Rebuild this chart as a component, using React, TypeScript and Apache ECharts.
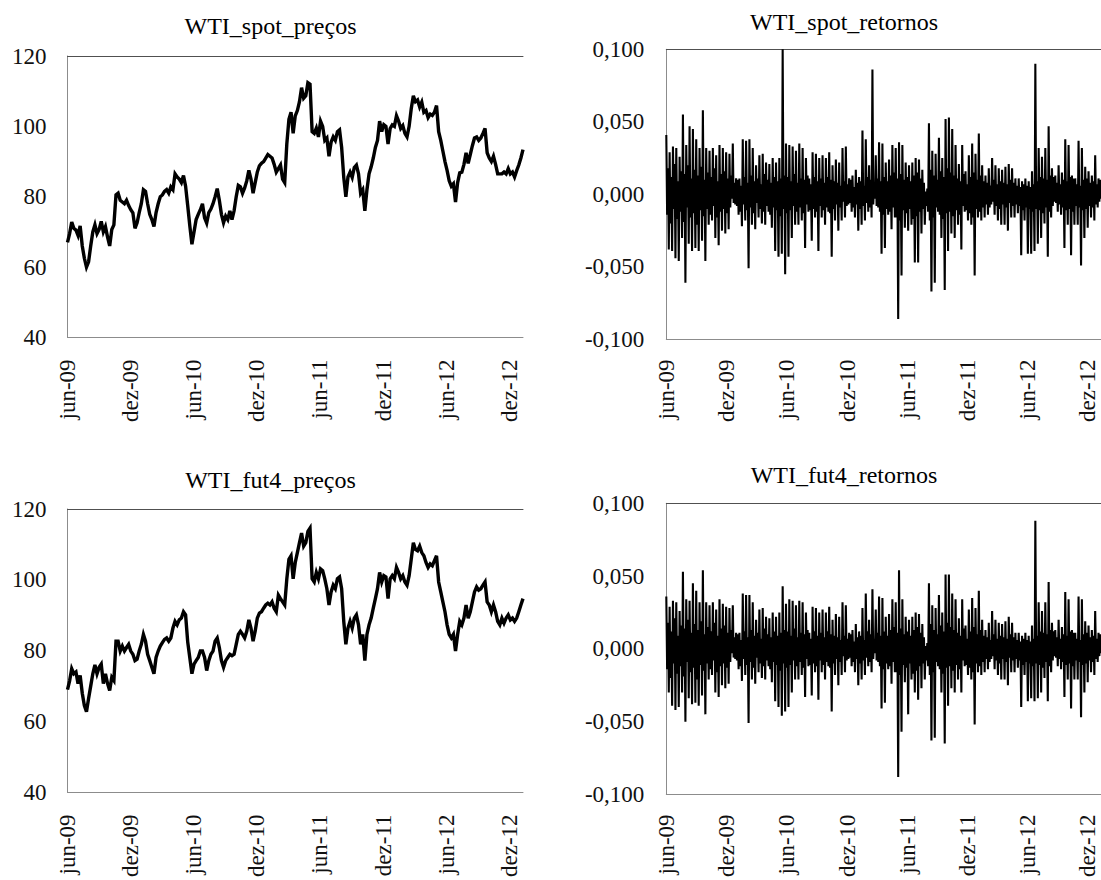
import React, { useEffect, useRef } from "react";
import * as echarts from "echarts";

// ---- tick labels (every 6 months, first at jun-09) ----
const tickLabels = ["jun-09", "dez-09", "jun-10", "dez-10", "jun-11", "dez-11", "jun-12", "dez-12"];
const spanMonths = 43.3; // months from jun-09 to end of series

// ---- WTI spot prices (evenly spaced in time) ----
const spotPrices = [
  67, 69.5, 72.8, 71, 70.5, 69, 71.7, 66, 62.5, 60, 61.5, 66, 70, 72, 69.5, 70.7, 73, 70, 71.5, 68.5,
  66, 70.7, 72, 80.5, 81, 79, 78.5, 78, 79, 77.5, 76.3, 75.4, 71, 72.6, 75.5, 78, 82, 81.5, 78, 75,
  73.5, 71.5, 75.5, 78, 80, 80.5, 81.5, 82, 81, 82.8, 82, 86.5, 85.6, 85, 84, 86, 83, 77.5, 71.7, 66.5,
  70, 73.5, 75, 76.3, 78, 74, 72.5, 75.5, 76.5, 78, 80, 82.3, 79, 75, 72.6, 74.5, 73.5, 76, 73.5, 76,
  80, 83.2, 82.8, 81, 82.5, 84.5, 87.5, 85, 81, 84, 87, 88.8, 89.5, 90, 91, 92, 91.5, 91, 89.2, 87,
  88, 89, 85, 84, 95, 102, 104, 98, 103, 104.5, 107, 111, 108, 108.7, 112.4, 112, 98.5, 98, 99.5, 97,
  101.5, 100, 96, 96.7, 91.5, 95.5, 97, 96, 98.5, 99, 94, 85.5, 80, 85.6, 87, 85.5, 88.3, 89, 86.5, 81,
  82, 76, 82, 86.5, 88.5, 91, 94, 96, 101.5, 98.5, 100.5, 100, 95, 99.4, 100.4, 100, 103, 101.5, 99.4, 100.2,
  98, 97, 100, 105, 108.7, 107, 107.5, 105.5, 106.9, 104, 104.5, 102.5, 103.5, 103.1, 104, 105.9, 98.5, 96, 93, 90,
  87.5, 84.5, 83, 83.7, 78.5, 84, 86.8, 87, 89.2, 92.5, 89.5, 92, 94.5, 96.7, 97, 96, 96.7, 98, 99.4, 92.5,
  91, 90, 91.5, 89.2, 86.5, 86.5, 86.5, 87, 86.5, 88, 86.5, 87, 85.6, 87.4, 89, 91, 93.4,
];

// ---- WTI 4th-month futures prices ----
const fut4Prices = [
  69, 71.5, 74.9, 73.5, 74, 70.7, 73, 68, 64.5, 62.8, 66.5, 70, 73.5, 76, 73.5, 75.3, 76.2, 70.7, 73.5, 70.7,
  68.8, 72.5, 71.6, 82.7, 82.7, 79.9, 81.3, 79.9, 80.9, 81.8, 79.9, 79, 77.2, 77.6, 79.9, 81.8, 84.6, 82.7, 79, 77.2,
  75.3, 73.5, 78.1, 79.9, 81.3, 82.3, 83.2, 83.6, 82.7, 83.6, 86.4, 88.3, 87.3, 88.7, 89.2, 91, 90.1, 82.5, 78, 73.5,
  76.2, 77.2, 78.1, 79.9, 79.9, 78.1, 74.4, 77.2, 79, 79.9, 82.7, 83.6, 80.9, 77.2, 75.3, 77.2, 78.1, 79, 78.6, 79,
  81.8, 84.6, 85.5, 84.6, 83.6, 85.5, 88.7, 86.4, 82.7, 85.5, 89.2, 90.6, 91, 92, 92.9, 93.4, 92.9, 93.8, 92, 91,
  95.7, 94.7, 93.8, 92.9, 100.3, 105.8, 106.8, 100.3, 104.9, 107.7, 110.5, 113.2, 109.5, 110.5, 113.7, 114.6, 100.3, 99.4, 102.1, 100.3,
  103.1, 102.6, 100.3, 97.5, 92.9, 96.6, 98.5, 97.5, 100.3, 100.8, 97.5, 88.3, 81.8, 86.4, 88.3, 86.4, 89.2, 90.1, 87.3, 81.8,
  84.6, 77.2, 84.6, 87.3, 89.2, 92, 94.7, 97.5, 102.1, 99.4, 101.2, 100.8, 94.7, 100.3, 101.2, 100.3, 103.5, 102.1, 100.3, 101.2,
  99.4, 98.5, 101.2, 105.8, 110.5, 108.6, 108.2, 109.5, 107.7, 106.8, 104.9, 103.5, 104.5, 104, 105.4, 106.8, 99.4, 96.6, 93.8, 91,
  87.3, 84.6, 83.6, 84.6, 79.9, 84.6, 88.3, 87.3, 89.2, 92.9, 89.2, 91, 93.8, 96.6, 98, 97.1, 97.5, 98.5, 99.4, 93.8,
  92.9, 91, 92.9, 91, 88.3, 87.3, 89.2, 87.8, 89.2, 90.1, 88.7, 89.2, 88.3, 89.2, 91, 92.9, 94.7,
];

// ---- WTI spot returns: per ~3 px slice, the highest and the lowest return (pairs) ----
const spotReturnExtremes = [
  0.041, -0.038, 0.029, -0.039, 0.033, -0.044, 0.032, -0.046, 0.026, -0.030, 0.055, -0.061, 0.034, -0.034, 0.047, -0.039, 0.045, -0.037, 0.038, -0.039,
  0.032, -0.032, 0.058, -0.046, 0.032, -0.021, 0.030, -0.018, 0.032, -0.030, 0.027, -0.035, 0.034, -0.025, 0.032, -0.027, 0.029, -0.024, 0.028, -0.003,
  0.035, -0.007, 0.011, -0.014, 0.011, -0.022, 0.038, -0.018, 0.037, -0.051, 0.038, -0.021, 0.032, -0.024, 0.020, -0.016, 0.027, -0.020, 0.028, -0.021,
  0.022, -0.012, 0.021, -0.023, 0.025, -0.039, 0.022, -0.043, 0.025, -0.041, 0.100, -0.055, 0.035, -0.043, 0.034, -0.030, 0.033, -0.021, 0.030, -0.021,
  0.035, -0.018, 0.032, -0.037, 0.025, -0.012, 0.011, -0.032, 0.029, -0.016, 0.028, -0.039, 0.025, -0.016, 0.027, -0.021, 0.025, -0.012, 0.029, -0.043,
  0.020, -0.018, 0.024, -0.025, 0.022, -0.018, 0.032, -0.016, 0.033, -0.007, 0.011, -0.012, 0.013, -0.016, 0.017, -0.025, 0.012, -0.021, 0.044, -0.018,
  0.038, -0.012, 0.020, -0.016, 0.086, -0.003, 0.027, -0.009, 0.036, -0.041,
  0.035, -0.037, 0.022, -0.014, 0.024, -0.024, 0.034, -0.016, 0.032, -0.086, 0.036, -0.056, 0.034, -0.023, 0.022, -0.025, 0.020, -0.021, 0.022, -0.047,
  0.025, -0.047, 0.024, -0.027, 0.017, -0.021, 0.002, -0.012, 0.049, -0.067, 0.030, -0.061, 0.028, -0.012, 0.039, -0.030, 0.025, -0.066, 0.052, -0.039,
  0.053, -0.027, 0.045, -0.030, 0.034, -0.021, 0.021, -0.038, 0.034, -0.012, 0.016, -0.018, 0.027, -0.021, 0.035, -0.056, 0.028, -0.016, 0.042, -0.018,
  0.020, -0.016, 0.013, -0.014, 0.018, -0.007, 0.025, -0.014, 0.020, -0.018, 0.018, -0.021, 0.017, -0.021, 0.019, -0.025, 0.021, -0.016, 0.018, -0.016,
  0.011, -0.013, 0.011, -0.042, 0.009, -0.018, 0.011, -0.041, 0.009, -0.041, 0.016, -0.039, 0.090, -0.034, 0.032, -0.030, 0.026, -0.020, 0.032, -0.043,
  0.047, -0.016, 0.018, -0.005, 0.013, -0.012, 0.020, -0.014, 0.015, -0.037, 0.038, -0.021, 0.034, -0.042, 0.013, -0.021, 0.011, -0.021, 0.037, -0.049,
  0.032, -0.030, 0.019, -0.023, 0.016, -0.016, 0.013, -0.018, 0.027, -0.009, 0.011, -0.003,
];

// ---- WTI fut4 returns: per slice, highest and lowest return (pairs) ----
const fut4ReturnExtremes = [
  0.036, -0.030, 0.029, -0.039, 0.033, -0.042, 0.032, -0.040, 0.026, -0.030, 0.053, -0.050, 0.034, -0.034, 0.033, -0.038, 0.045, -0.037, 0.040, -0.039,
  0.032, -0.032, 0.054, -0.045, 0.032, -0.021, 0.030, -0.018, 0.032, -0.030, 0.027, -0.033, 0.034, -0.025, 0.031, -0.027, 0.029, -0.024, 0.028, -0.003,
  0.030, -0.007, 0.011, -0.014, 0.011, -0.022, 0.038, -0.018, 0.037, -0.051, 0.037, -0.021, 0.032, -0.024, 0.020, -0.016, 0.027, -0.020, 0.028, -0.021,
  0.022, -0.012, 0.021, -0.023, 0.025, -0.036, 0.022, -0.040, 0.025, -0.046, 0.043, -0.043, 0.031, -0.040, 0.034, -0.030, 0.033, -0.021, 0.030, -0.021,
  0.033, -0.018, 0.032, -0.033, 0.025, -0.012, 0.011, -0.032, 0.029, -0.016, 0.028, -0.035, 0.025, -0.016, 0.027, -0.021, 0.025, -0.012, 0.029, -0.043,
  0.020, -0.018, 0.024, -0.025, 0.022, -0.018, 0.032, -0.016, 0.030, -0.007, 0.011, -0.012, 0.013, -0.016, 0.017, -0.025, 0.012, -0.021, 0.028, -0.018,
  0.038, -0.012, 0.020, -0.016, 0.041, -0.003, 0.027, -0.009, 0.036, -0.041,
  0.035, -0.037, 0.022, -0.014, 0.024, -0.024, 0.034, -0.016, 0.032, -0.088, 0.054, -0.057, 0.034, -0.023, 0.022, -0.045, 0.020, -0.021, 0.022, -0.030,
  0.025, -0.035, 0.024, -0.027, 0.017, -0.021, 0.002, -0.012, 0.045, -0.063, 0.030, -0.061, 0.028, -0.012, 0.037, -0.030, 0.025, -0.065, 0.051, -0.039,
  0.051, -0.027, 0.038, -0.030, 0.034, -0.021, 0.021, -0.030, 0.034, -0.012, 0.016, -0.018, 0.027, -0.021, 0.035, -0.052, 0.028, -0.016, 0.040, -0.018,
  0.020, -0.016, 0.013, -0.014, 0.018, -0.007, 0.026, -0.014, 0.020, -0.018, 0.018, -0.021, 0.017, -0.021, 0.019, -0.025, 0.022, -0.016, 0.018, -0.016,
  0.011, -0.013, 0.011, -0.040, 0.009, -0.018, 0.011, -0.036, 0.009, -0.034, 0.016, -0.036, 0.088, -0.034, 0.032, -0.030, 0.026, -0.020, 0.032, -0.036,
  0.046, -0.016, 0.018, -0.005, 0.013, -0.012, 0.020, -0.014, 0.015, -0.033, 0.039, -0.021, 0.034, -0.041, 0.013, -0.021, 0.011, -0.021, 0.036, -0.047,
  0.034, -0.030, 0.019, -0.023, 0.016, -0.016, 0.013, -0.018, 0.026, -0.009, 0.011, -0.003,
];

// ---- typical (non-extreme) daily returns inside each slice: one up-day and one down-day ----
const returnCoreHigh = [
  0.018, 0.012, 0.021, 0.009, 0.016, 0.014, 0.020, 0.011, 0.017, 0.013, 0.019, 0.010, 0.015, 0.012, 0.018, 0.009, 0.014, 0.016, 0.011, 0.013, 0.008,
  0.010, 0.006, 0.012, 0.008, 0.013, 0.009, 0.011, 0.007, 0.014, 0.010, 0.008, 0.012, 0.009, 0.011, 0.013, 0.012, 0.009, 0.014, 0.008, 0.011,
  0.010, 0.013, 0.007, 0.012, 0.009, 0.011, 0.008, 0.012, 0.010, 0.009,
  0.008, 0.006, 0.009, 0.007, 0.010, 0.005, 0.008, 0.009, 0.006, 0.012, 0.010, 0.007, 0.011, 0.009,
  0.012, 0.009, 0.013, 0.015, 0.011, 0.014, 0.010, 0.012, 0.009, 0.013, 0.015, 0.011, 0.008, 0.004, 0.017, 0.013, 0.010, 0.016, 0.012, 0.018,
  0.015, 0.013, 0.011, 0.009, 0.014, 0.007, 0.012, 0.015, 0.010, 0.013, 0.009,
  0.008, 0.006, 0.010, 0.007, 0.009, 0.008, 0.007, 0.010, 0.008, 0.006, 0.005, 0.007, 0.006, 0.005, 0.007, 0.009, 0.012, 0.011, 0.010, 0.013,
  0.012, 0.008, 0.007, 0.010, 0.009, 0.012, 0.011, 0.007, 0.006, 0.010, 0.011, 0.008, 0.009, 0.007, 0.010,
];
const returnCoreLow = [
  -0.014, -0.020, -0.010, -0.017, -0.012, -0.019, -0.009, -0.016, -0.013, -0.021, -0.011, -0.015, -0.010, -0.014, -0.008, -0.016, -0.012, -0.010, -0.013, -0.009, -0.006,
  -0.008, -0.012, -0.007, -0.011, -0.009, -0.013, -0.006, -0.010, -0.012, -0.008, -0.014, -0.009, -0.011, -0.015, -0.010, -0.013, -0.011, -0.008, -0.012, -0.009,
  -0.013, -0.007, -0.011, -0.010, -0.012, -0.008, -0.011, -0.009, -0.013, -0.010,
  -0.007, -0.009, -0.005, -0.008, -0.006, -0.009, -0.007, -0.010, -0.008, -0.006, -0.009, -0.007, -0.008, -0.012,
  -0.014, -0.010, -0.012, -0.009, -0.016, -0.018, -0.011, -0.013, -0.010, -0.017, -0.015, -0.012, -0.010, -0.008, -0.018, -0.016, -0.009, -0.014, -0.017, -0.013,
  -0.012, -0.015, -0.011, -0.014, -0.008, -0.011, -0.013, -0.016, -0.010, -0.012, -0.009,
  -0.007, -0.009, -0.005, -0.008, -0.010, -0.007, -0.009, -0.006, -0.008, -0.007, -0.008, -0.011, -0.009, -0.010, -0.012, -0.010, -0.011, -0.013, -0.009, -0.012,
  -0.008, -0.006, -0.007, -0.009, -0.011, -0.010, -0.012, -0.008, -0.009, -0.011, -0.010, -0.008, -0.009, -0.007, -0.005,
];

const FONT = '"Liberation Serif", "Times New Roman", serif';

type Panel = {
  title: string;
  values: number[];
  box: { left: number; top: number; width: number; height: number };
  grid: { left: number; top: number; width: number; height: number };
  titleX: number;
  titleY: number;
  yMin: number;
  yMax: number;
  yStep: number;
  yFmt: (v: number) => string;
  lineWidth: number;
  xMargin: number;
  yMargin: number;
};

// daily-return trace: in each slice the series visits its high, a down-day, an up-day and its low
function returnTrace(extremes: number[], lows: number[], highs: number[]): number[] {
  const out: number[] = [];
  for (let b = 0; b < extremes.length / 2; b++) {
    out.push(extremes[2 * b], lows[b] ?? -0.01, highs[b] ?? 0.01, extremes[2 * b + 1]);
  }
  return out;
}

const priceFmt = (v: number) => String(Math.round(v));
const retFmt = (v: number) => (Math.abs(v) < 1e-9 ? 0 : v).toFixed(3).replace(".", ",");

const panels: Panel[] = [
  {
    title: "WTI_spot_preços",
    values: spotPrices,
    box: { left: 0, top: 0, width: 550, height: 425 },
    grid: { left: 67.5, top: 56, width: 455.5, height: 288 },
    titleX: 270.5,
    titleY: 26,
    yMin: 40, yMax: 120, yStep: 20, yFmt: priceFmt,
    lineWidth: 3.4,
    xMargin: 22, yMargin: 21,
  },
  {
    title: "WTI_spot_retornos",
    values: returnTrace(spotReturnExtremes, returnCoreLow, returnCoreHigh),
    box: { left: 550, top: 0, width: 551, height: 425 },
    grid: { left: 116.3, top: 49.3, width: 434.7, height: 294 },
    titleX: 294,
    titleY: 22,
    yMin: -0.1, yMax: 0.1, yStep: 0.05, yFmt: retFmt,
    lineWidth: 2.1,
    xMargin: 20, yMargin: 22,
  },
  {
    title: "WTI_fut4_preços",
    values: fut4Prices,
    box: { left: 0, top: 430, width: 550, height: 450 },
    grid: { left: 67.5, top: 79, width: 455.5, height: 288.3 },
    titleX: 270.5,
    titleY: 49.5,
    yMin: 40, yMax: 120, yStep: 20, yFmt: priceFmt,
    lineWidth: 3.4,
    xMargin: 22, yMargin: 21,
  },
  {
    title: "WTI_fut4_retornos",
    values: returnTrace(fut4ReturnExtremes, returnCoreLow, returnCoreHigh),
    box: { left: 550, top: 430, width: 551, height: 450 },
    grid: { left: 116.3, top: 73.3, width: 434.7, height: 294 },
    titleX: 294,
    titleY: 45,
    yMin: -0.1, yMax: 0.1, yStep: 0.05, yFmt: retFmt,
    lineWidth: 2.1,
    xMargin: 20, yMargin: 22,
  },
];

function xLabel(v: number): string {
  const k = Math.round(v / 6);
  if (Math.abs(v - k * 6) > 1e-6 || k < 0 || k >= tickLabels.length) return "";
  return tickLabels[k];
}

function ChartPanel({ p }: { p: Panel }) {
  const ref = useRef<HTMLDivElement>(null);
  useEffect(() => {
    if (!ref.current) return;
    const chart = echarts.init(ref.current, null, { renderer: "svg" });
    const n = p.values.length;
    const data = p.values.map((v, i) => [(i * spanMonths) / (n - 1), v]);
    chart.setOption({
      animation: false,
      backgroundColor: "#ffffff",
      graphic: [
        {
          type: "text",
          x: p.titleX,
          y: p.titleY,
          style: {
            text: p.title,
            fill: "#000000",
            font: `24px ${FONT}`,
            textAlign: "center",
            textVerticalAlign: "middle",
            align: "center",
            verticalAlign: "middle",
          },
        },
      ],
      grid: { ...p.grid, containLabel: false },
      xAxis: [
        {
          type: "value",
          min: 0,
          max: spanMonths,
          interval: 6,
          axisLine: { show: true, onZero: false, lineStyle: { color: "#8c8c8c", width: 1 } },
          axisTick: { show: false },
          splitLine: { show: false },
          axisLabel: {
            rotate: 90,
            margin: p.xMargin,
            fontFamily: FONT,
            fontSize: 23,
            color: "#111111",
            showMinLabel: true,
            showMaxLabel: false,
            formatter: xLabel,
          },
        },
        {
          type: "value",
          position: "top",
          min: 0,
          max: spanMonths,
          axisLine: { show: true, onZero: false, lineStyle: { color: "#505050", width: 1 } },
          axisTick: { show: false },
          axisLabel: { show: false },
          splitLine: { show: false },
        },
      ],
      yAxis: {
        type: "value",
        min: p.yMin,
        max: p.yMax,
        interval: p.yStep,
        axisLine: { show: true, onZero: false, lineStyle: { color: "#8c8c8c", width: 1 } },
        axisTick: { show: false },
        splitLine: { show: false },
        axisLabel: {
          margin: p.yMargin,
          fontFamily: FONT,
          fontSize: 23,
          color: "#111111",
          formatter: p.yFmt,
        },
      },
      series: [
        {
          type: "line",
          xAxisIndex: 0,
          data,
          symbol: "none",
          showSymbol: false,
          lineStyle: { color: "#000000", width: p.lineWidth, join: "miter" },
          silent: true,
        },
      ],
    });
    return () => chart.dispose();
  }, [p]);
  return (
    <div
      style={{
        position: "absolute",
        left: p.box.left,
        top: p.box.top,
        width: p.box.width,
        height: p.box.height,
        overflow: "hidden",
        background: "#fff",
      }}
    >
      <div ref={ref} style={{ width: p.box.width, height: p.box.height }} />
    </div>
  );
}

export default function App() {
  useEffect(() => {
    const b = document.body;
    const prevMargin = b.style.margin;
    const prevOverflow = b.style.overflow;
    b.style.margin = "0";
    b.style.overflow = "hidden";
    return () => {
      b.style.margin = prevMargin;
      b.style.overflow = prevOverflow;
    };
  }, []);
  return (
    <div style={{ position: "absolute", left: 0, top: 0, width: 1101, height: 880, background: "#fff", overflow: "hidden" }}>
      {panels.map((p) => (
        <ChartPanel key={p.title} p={p} />
      ))}
    </div>
  );
}
